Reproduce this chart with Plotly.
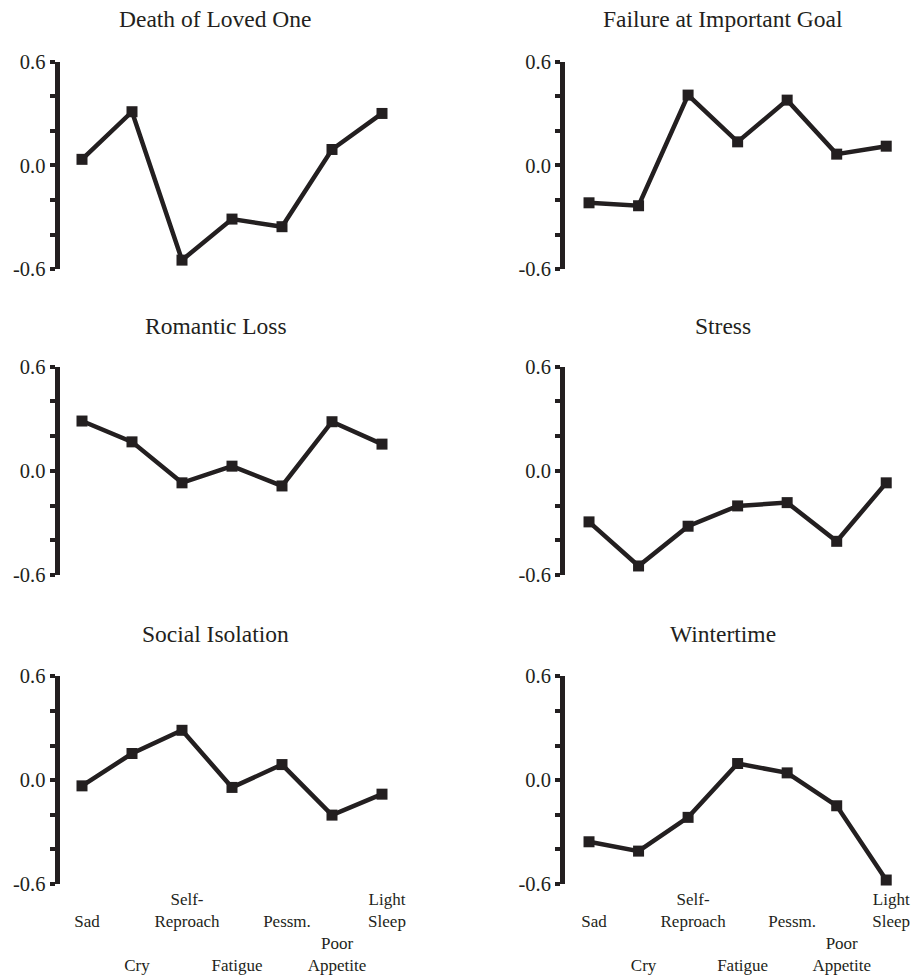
import plotly.graph_objects as go

symptoms = ["Sad", "Cry", "Self-Reproach", "Fatigue", "Pessm.", "Poor Appetite", "Light Sleep"]
tick_labels = [" <br>Sad", " <br> <br> <br>Cry", "Self-<br>Reproach", " <br> <br> <br>Fatigue",
               " <br>Pessm.", " <br> <br>Poor<br>Appetite", "Light<br>Sleep"]

titles = ["Death of Loved One", "Failure at Important Goal", "Romantic Loss",
          "Stress", "Social Isolation", "Wintertime"]

death_loved_one = [0.035, 0.31, -0.547, -0.31, -0.354, 0.092, 0.30]
failure_goal = [-0.216, -0.233, 0.406, 0.136, 0.377, 0.065, 0.111]
romantic_loss = [0.287, 0.167, -0.069, 0.027, -0.087, 0.283, 0.154]
stress = [-0.294, -0.548, -0.319, -0.202, -0.183, -0.406, -0.069]
social_isolation = [-0.033, 0.154, 0.288, -0.042, 0.09, -0.202, -0.081]
wintertime = [-0.356, -0.41, -0.215, 0.096, 0.042, -0.148, -0.577]

series = [death_loved_one, failure_goal, romantic_loss, stress, social_isolation, wintertime]

ytick_vals = [-0.6, -0.4, -0.2, 0.0, 0.2, 0.4, 0.6]
ytick_text = ["-0.6", "", "", "0.0", "", "", "0.6"]

INK = "#231f20"
FONT = "Liberation Serif, Times New Roman, serif"
W, H = 916, 976

# pixel layout: domains and x ranges per column (left edge just right of the axis line)
x_dom_px = [(59.5, 407), (565, 911)]
x_ranges = [[-0.45, 6.5], [-0.485, 6.5]]
y_dom_px = [(61.5, 269.3), (366.7, 575), (676.3, 884)]
title_y_px = [19, 326, 634]
title_x_px = [215.5, 723]


def px_x(v):
    return v / W


def px_y(v):
    return 1 - v / H


fig = go.Figure()
for i, (vals, title) in enumerate(zip(series, titles)):
    r, c = divmod(i, 2)
    n = i + 1
    xa = "x" if n == 1 else f"x{n}"
    ya = "y" if n == 1 else f"y{n}"
    fig.add_trace(go.Scatter(
        x=list(range(len(symptoms))), y=vals, mode="lines+markers",
        line=dict(color=INK, width=4.5),
        marker=dict(symbol="square", size=11, color=INK),
        cliponaxis=False, showlegend=False, xaxis=xa, yaxis=ya,
        hovertext=symptoms,
    ))
    x0, x1 = x_dom_px[c]
    y0, y1 = y_dom_px[r]
    xkey = "xaxis" if n == 1 else f"xaxis{n}"
    ykey = "yaxis" if n == 1 else f"yaxis{n}"
    fig.update_layout({
        xkey: dict(
            domain=[px_x(x0), px_x(x1)], anchor=ya, range=x_ranges[c],
            showline=False, showgrid=False, zeroline=False, ticks="",
            tickvals=list(range(len(symptoms))),
            ticktext=tick_labels if r == 2 else [""] * len(symptoms),
            showticklabels=(r == 2), tickangle=0, automargin=False,
            tickfont=dict(family=FONT, size=17, color=INK),
            ticklabelshift=5, ticklabelstandoff=3,
        ),
        ykey: dict(
            domain=[px_y(y1), px_y(y0)], anchor=xa, range=[-0.6, 0.6],
            showline=True, linewidth=5, linecolor=INK,
            showgrid=False, zeroline=False, automargin=False,
            ticks="outside", ticklen=5, tickwidth=4, tickcolor=INK,
            tickvals=ytick_vals, ticktext=ytick_text,
            tickfont=dict(family=FONT, size=20.5, color=INK),
        ),
    })
    fig.add_annotation(
        text=title, xref="paper", yref="paper",
        x=px_x(title_x_px[c]), y=px_y(title_y_px[r]),
        xanchor="center", yanchor="middle", showarrow=False,
        font=dict(family=FONT, size=23.5, color=INK),
    )

fig.update_layout(
    width=W, height=H, margin=dict(l=0, r=0, t=0, b=0),
    paper_bgcolor="white", plot_bgcolor="white",
)

fig.write_html("out.html", config={"displayModeBar": False},
               post_script="document.body.style.margin='0';")
